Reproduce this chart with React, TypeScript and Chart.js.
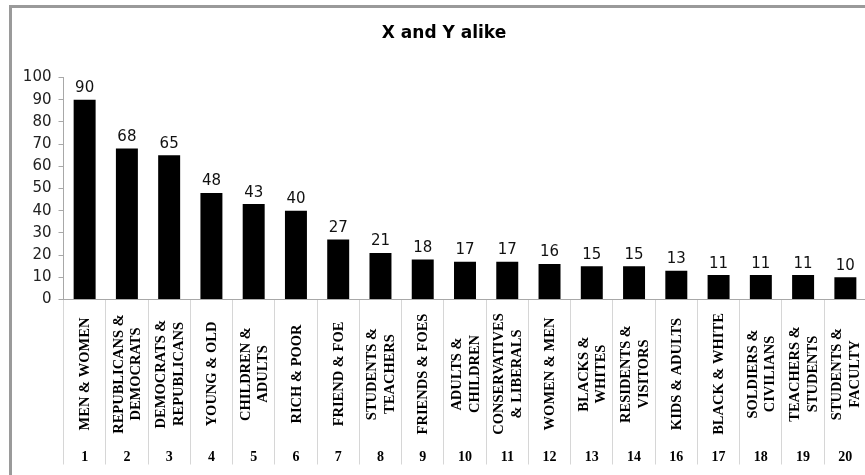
import React, { useEffect, useRef } from 'react';
import { Chart, registerables } from 'chart.js';

Chart.register(...registerables);

const chartTitle = 'X and Y alike';
const rankLabels = ['1', '2', '3', '4', '5', '6', '7', '8', '9', '10', '11', '12', '13', '14', '16', '17', '18', '19', '20'];
const categoryLines = [
  ['MEN & WOMEN'],
  ['REPUBLICANS &', 'DEMOCRATS'],
  ['DEMOCRATS &', 'REPUBLICANS'],
  ['YOUNG & OLD'],
  ['CHILDREN &', 'ADULTS'],
  ['RICH & POOR'],
  ['FRIEND & FOE'],
  ['STUDENTS &', 'TEACHERS'],
  ['FRIENDS & FOES'],
  ['ADULTS &', 'CHILDREN'],
  ['CONSERVATIVES', '& LIBERALS'],
  ['WOMEN & MEN'],
  ['BLACKS &', 'WHITES'],
  ['RESIDENTS &', 'VISITORS'],
  ['KIDS & ADULTS'],
  ['BLACK & WHITE'],
  ['SOLDIERS &', 'CIVILIANS'],
  ['TEACHERS &', 'STUDENTS'],
  ['STUDENTS &', 'FACULTY'],
];
const counts = [90, 68, 65, 48, 43, 40, 27, 21, 18, 17, 17, 16, 15, 15, 13, 11, 11, 11, 10];
const yMin = 0;
const yMax = 100;
const yStep = 10;

const labelPlugin = {
  id: 'categoryAndValueLabels',
  afterDraw(chart: any) {
    const ctx = chart.ctx as CanvasRenderingContext2D;
    const xScale = chart.scales.x;
    const meta = chart.getDatasetMeta(0);
    ctx.save();
    // value labels above bars
    ctx.fillStyle = '#111';
    ctx.font = '15px "DejaVu Sans"';
    ctx.textAlign = 'center';
    ctx.textBaseline = 'alphabetic';
    meta.data.forEach((bar: any, i: number) => {
      ctx.fillText(String(counts[i]), bar.x, bar.y - 7.5);
    });
    // rotated category names
    const axisBottom = xScale.bottom;
    const nameCenterY = xScale.top + 74.5;
    const lineGap = 17.5;
    ctx.font = 'bold 14.5px "Liberation Serif"';
    ctx.fillStyle = '#000';
    ctx.textBaseline = 'middle';
    ctx.textAlign = 'center';
    categoryLines.forEach((lines, i) => {
      const x = xScale.getPixelForValue(i);
      ctx.save();
      ctx.translate(x + 1, nameCenterY);
      ctx.rotate(-Math.PI / 2);
      lines.forEach((ln, k) => {
        ctx.fillText(ln, 0, (k - (lines.length - 1) / 2) * lineGap);
      });
      ctx.restore();
    });
    // rank number row
    ctx.font = 'bold 14px "Liberation Serif"';
    ctx.textBaseline = 'middle';
    rankLabels.forEach((r, i) => {
      const x = xScale.getPixelForValue(i);
      ctx.fillText(r, x, axisBottom - 18);
    });
    ctx.restore();
  },
};

export default function App() {
  const canvasRef = useRef<HTMLCanvasElement | null>(null);

  useEffect(() => {
    if (!canvasRef.current) return;
    const chart = new Chart(canvasRef.current, {
      type: 'bar',
      data: {
        labels: rankLabels,
        datasets: [
          {
            data: counts,
            backgroundColor: '#000000',
            borderWidth: 0,
            barPercentage: 0.52,
            categoryPercentage: 1,
          },
        ],
      },
      options: {
        responsive: false,
        animation: false,
        layout: { padding: { left: 8, right: 0, top: 0, bottom: 0 } },
        plugins: {
          legend: { display: false },
          tooltip: { enabled: false },
          title: {
            display: true,
            text: chartTitle,
            color: '#000',
            font: { family: 'DejaVu Sans', size: 17, weight: 'bold', lineHeight: 1.2 },
            padding: { top: 23.3, bottom: 33.8 },
          },
        },
        scales: {
          x: {
            offset: true,
            grid: {
              display: true,
              offset: true,
              drawOnChartArea: false,
              drawTicks: true,
              tickLength: 165,
              color: '#d6d6d6',
              lineWidth: 1,
            },
            border: { display: true, color: '#a8a8a8' },
            ticks: { display: false },
            afterFit: (s: any) => {
              s.height = 175.5;
            },
          },
          y: {
            min: yMin,
            max: yMax,
            ticks: {
              stepSize: yStep,
              color: '#222',
              font: { family: 'DejaVu Sans', size: 15 },
              padding: 7,
            },
            grid: { drawOnChartArea: false, drawTicks: true, tickLength: 5, color: '#a8a8a8' },
            border: { display: true, color: '#a8a8a8' },
            afterFit: (s: any) => {
              s.width = 55.5;
            },
          },
          yr: {
            position: 'right',
            display: true,
            grid: { display: false },
            ticks: { display: false },
            border: { display: false },
            afterFit: (s: any) => {
              s.width = 13.5;
            },
          },
        },
      } as any,
      plugins: [labelPlugin],
    });
    return () => chart.destroy();
  }, []);

  return (
    <div
      style={{
        position: 'fixed',
        left: 0,
        top: 0,
        width: 865,
        height: 475,
        overflow: 'hidden',
        background: '#fff',
      }}
    >
      <canvas
        ref={canvasRef}
        width={880}
        height={475}
        style={{ position: 'absolute', left: 0, top: 0, width: 880, height: 475 }}
      />
      <div
        style={{
          position: 'absolute',
          left: 9,
          top: 5,
          width: 900,
          height: 500,
          borderLeft: '3px solid #9a9a9a',
          borderTop: '3px solid #9a9a9a',
          pointerEvents: 'none',
        }}
      />
    </div>
  );
}
